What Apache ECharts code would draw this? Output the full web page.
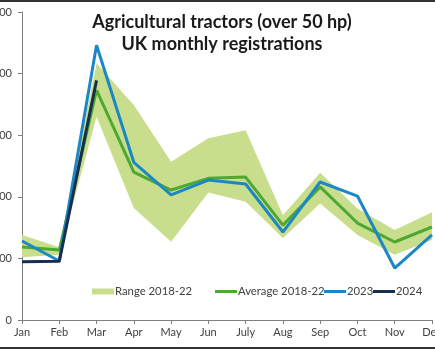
<!DOCTYPE html>
<html>
<head>
<meta charset="utf-8">
<script src="https://cdn.jsdelivr.net/npm/echarts@6/dist/echarts.min.js"></script>
<style>
    html, body {margin:0;padding:0;background:#ffffff;}
    #chart {width:435px;height:350px;}
</style>
</head>
<body>
<div id="chart"></div>
<script>
    // months on the x axis
    var months = ['Jan', 'Feb', 'Mar', 'Apr', 'May', 'Jun', 'July', 'Aug', 'Sep', 'Oct', 'Nov', 'Dec'];

    // range 2018-22, low and high edge of the band
    var rangeLow = [510, 530, 1650, 910, 635, 1035, 960, 665, 945, 690, 530, 650];
    var rangeHigh = [690, 590, 2085, 1745, 1285, 1475, 1540, 850, 1195, 905, 730, 875];

    var average = [593, 568, 1865, 1200, 1055, 1150, 1160, 770, 1080, 787, 633, 755];
    var y2023 = [641, 479, 2230, 1280, 1015, 1136, 1104, 714, 1120, 1006, 422, 690];
    var y2024 = [472, 476, 1945];

    // band drawn as stacked area: low edge + (high - low)
    var rangeDiff = [];
    for (var i = 0; i < rangeLow.length; i++) {
        rangeDiff.push(rangeHigh[i] - rangeLow[i]);
    }

    var chart = echarts.init(document.getElementById('chart'));

    var font = 'Lato, "Open Sans", sans-serif';
    var lineIcon = 'path://M0,5 L22,5 L22,8 L0,8 Z';

    function legendItem(name, x, icon) {
        return {
            data: [name],
            left: x,
            top: 286,
            itemWidth: 22,
            itemHeight: icon === 'rect' ? 6 : 12,
            itemGap: 0,
            icon: icon,
            selectedMode: false,
            padding: 0,
            textStyle: {fontFamily: font, fontSize: 11.3, color: '#404040', padding: [0, 0, 0, -4]}
        };
    }

    var option = {
        animation: false,
        title: {
            text: 'Agricultural tractors (over 50 hp)\nUK monthly registrations',
            left: 217,
            textAlign: 'center',
            top: 6,
            textStyle: {fontFamily: font, fontSize: 18, fontWeight: 'bold', color: '#1a1a1a', lineHeight: 22}
        },
        legend: [
            legendItem('Range 2018-22', 92, 'rect'),
            legendItem('Average 2018-22', 215, lineIcon),
            legendItem('2023', 324, lineIcon),
            legendItem('2024', 373, lineIcon)
        ],
        grid: {left: 22, right: 3, top: 12, bottom: 30, containLabel: false, outerBoundsMode: 'none'},
        xAxis: {
            type: 'category',
            boundaryGap: false,
            data: months,
            axisLine: {lineStyle: {color: '#7f7f7f', width: 1}},
            axisTick: {show: true, length: 4, alignWithLabel: true, lineStyle: {color: '#7f7f7f'}},
            axisLabel: {fontFamily: font, fontSize: 11, color: '#404040', margin: 7, interval: 0, hideOverlap: false}
        },
        yAxis: {
            type: 'value',
            min: 0,
            max: 2500,
            interval: 500,
            splitLine: {show: false},
            axisLine: {show: true, lineStyle: {color: '#7f7f7f', width: 1}},
            axisTick: {show: true, length: 4, lineStyle: {color: '#7f7f7f'}},
            axisLabel: {fontFamily: font, fontSize: 11, color: '#404040', margin: 10}
        },
        graphic: [
            {type: 'rect', shape: {x: 0, y: 0, width: 435, height: 2}, style: {fill: '#333333'}},
            {type: 'rect', shape: {x: 0, y: 347, width: 435, height: 2}, style: {fill: '#333333'}}
        ],
        series: [
            {
                name: 'rangeLow',
                type: 'line',
                stack: 'range',
                data: rangeLow,
                symbol: 'none',
                lineStyle: {opacity: 0},
                silent: true
            },
            {
                name: 'Range 2018-22',
                type: 'line',
                stack: 'range',
                data: rangeDiff,
                symbol: 'none',
                lineStyle: {opacity: 0},
                itemStyle: {color: '#c9de8c'},
                areaStyle: {color: '#c9de8c', opacity: 1}
            },
            {
                name: 'Average 2018-22',
                type: 'line',
                data: average,
                symbol: 'none',
                lineStyle: {color: '#4ea832', width: 3},
                itemStyle: {color: '#4ea832'}
            },
            {
                name: '2023',
                type: 'line',
                data: y2023,
                symbol: 'none',
                lineStyle: {color: '#1d87c6', width: 3},
                itemStyle: {color: '#1d87c6'}
            },
            {
                name: '2024',
                type: 'line',
                data: y2024,
                symbol: 'none',
                lineStyle: {color: '#172f4e', width: 3},
                itemStyle: {color: '#172f4e'}
            }
        ]
    };
    chart.setOption(option);
</script>
</body>
</html>
